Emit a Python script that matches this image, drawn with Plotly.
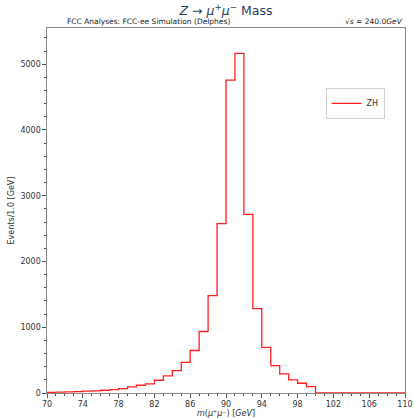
import plotly.graph_objects as go

# Bin edges (GeV) and event counts per 1 GeV bin
bin_low = list(range(70, 110))
bin_high_last = 110
counts = [10, 13, 17, 21, 27, 32, 42, 52, 67, 92,
          118, 138, 194, 260, 341, 466, 646, 935, 1480, 2575,
          4757, 5164, 2716, 1283, 694, 417, 290, 199, 148, 97,
          0, 0, 0, 0, 0, 0, 0, 0, 0, 0]
series_name = "ZH"
x_ticks = [70, 74, 78, 82, 86, 90, 94, 98, 102, 106, 110]
y_ticks = [0, 1000, 2000, 3000, 4000, 5000]

xs = [bin_low[0]] + bin_low + [bin_high_last]
ys = [0] + counts + [counts[-1]]

font = "DejaVu Sans"
fig = go.Figure()
fig.add_trace(go.Scatter(
    x=xs, y=ys, mode="lines", line=dict(shape="hv", color="#ff2020", width=1.3),
    name=series_name, showlegend=True))

axis_common = dict(
    showgrid=False, zeroline=False, showline=True, linecolor="#8a8a8a", linewidth=1.2,
    mirror=True, ticks="outside", ticklen=3.5, tickwidth=0.9, tickcolor="#555",
    tickfont=dict(family=font, size=8, color="#333"),
    automargin=False,
)
fig.update_xaxes(
    range=[70, 110], tickvals=x_ticks,
    minor=dict(dtick=1, ticks="outside", ticklen=2, tickwidth=0.7, tickcolor="#555"),
    title=dict(text="<i>m</i>(<i>μ⁺μ⁻</i>) [<i>GeV</i>]",
               font=dict(family=font, size=8, color="#333"), standoff=7),
    **axis_common)
fig.update_yaxes(
    range=[0, 5550], tickvals=y_ticks,
    minor=dict(dtick=200, ticks="outside", ticklen=2, tickwidth=0.7, tickcolor="#555"),
    title=dict(text="Events/1.0 [GeV]", font=dict(family=font, size=8, color="#333"), standoff=4),
    **axis_common)

fig.update_layout(
    width=414, height=418,
    margin=dict(l=47, r=8.5, t=28, b=25),
    paper_bgcolor="white", plot_bgcolor="white",
    title=dict(text="<i>Z</i> → <i>μ</i><sup>+</sup><i>μ</i><sup>−</sup> Mass",
               x=0.5, xref="paper", xanchor="center", y=1 - 11 / 418, yanchor="middle",
               yref="container",
               font=dict(family=font, size=12.5, color="#2a3f5f")),
    legend=dict(x=0.778, y=0.836, xanchor="left", yanchor="top",
                bgcolor="white", bordercolor="#d0d0d0", borderwidth=1,
                font=dict(family=font, size=8, color="#333"),
                itemwidth=30, tracegroupgap=0),
    showlegend=True,
    annotations=[
        dict(text="FCC Analyses: FCC-ee Simulation (Delphes)", xref="paper", yref="paper",
             x=0.05, y=1.0, xanchor="left", yanchor="bottom", yshift=0, showarrow=False,
             font=dict(family=font, size=7.5, color="#222")),
        dict(text="√<i>s</i> = 240.0<i>GeV</i>", xref="paper", yref="paper",
             x=1.0, y=1.0, xanchor="right", yanchor="bottom", yshift=0, showarrow=False,
             font=dict(family=font, size=7.5, color="#222")),
    ],
)

fig.write_html("out.html", config={"displayModeBar": False},
               post_script="document.body.style.margin='0';")
